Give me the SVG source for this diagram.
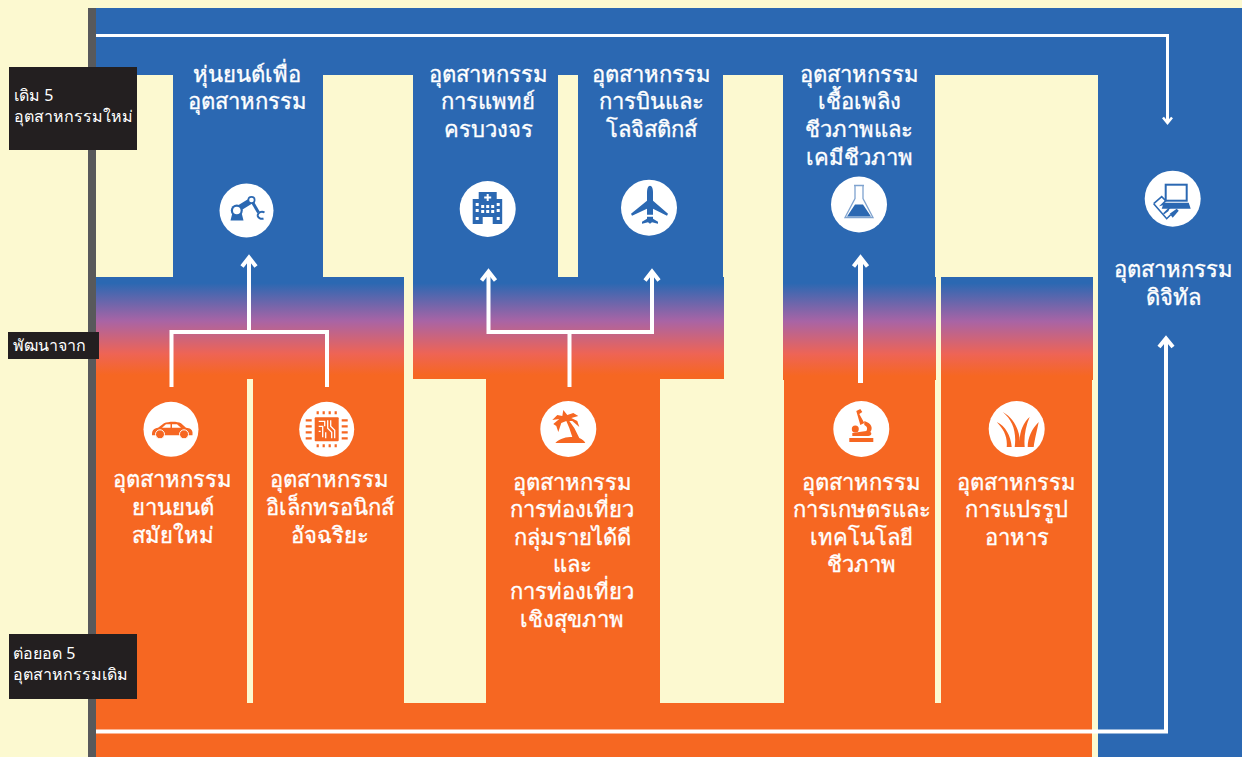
<svg xmlns="http://www.w3.org/2000/svg" width="1242" height="757" viewBox="0 0 1242 757">
<style>
.t{font-family:"Noto Sans","Noto Sans CJK SC",sans-serif;font-size:22px;font-weight:500;fill:#fff;stroke:#fff;stroke-width:0.350px;text-anchor:middle}
.l{font-family:"Noto Sans","Noto Sans CJK SC",sans-serif;font-size:16px;fill:#fff}
.b{fill:#2b68b2}.o{fill:#f66722}.k{fill:#231f20}.w{fill:#fff}.g{fill:url(#grad)}
.c{fill:none;stroke:#fff;stroke-width:4;stroke-linejoin:miter}
.a{fill:none;stroke:#fff;stroke-width:4;stroke-linecap:butt}
</style>
<defs>
<linearGradient id="grad" x1="0" y1="0" x2="0" y2="1">
<stop offset="0.06" stop-color="#2b68b2"/><stop offset="0.43" stop-color="#a864a5"/><stop offset="0.75" stop-color="#ee6455"/><stop offset="0.96" stop-color="#f66722"/>
</linearGradient>
</defs>
<rect width="1242" height="757" fill="#fcf9d0"/>
<rect x="88" y="8" width="8" height="749" fill="#58595b"/>
<g id="backdrop">
<rect class="b" x="96" y="8" width="1146" height="67"/>
<rect class="b" x="1098" y="8" width="144" height="749"/>
<rect class="b" x="173" y="75" width="150" height="202"/>
<rect class="b" x="413" y="75" width="145" height="202"/>
<rect class="b" x="578" y="75" width="145" height="202"/>
<rect class="b" x="783" y="75" width="152" height="202"/>
<rect class="g" x="96" y="277" width="308" height="102"/>
<rect class="g" x="413" y="277" width="311" height="102"/>
<rect class="g" x="783" y="277" width="153" height="103"/>
<rect class="g" x="941" y="277" width="152" height="103"/>
<rect class="o" x="96" y="379" width="151" height="324"/>
<rect class="o" x="253" y="379" width="151" height="324"/>
<rect class="o" x="486" y="379" width="174" height="324"/>
<rect class="o" x="784" y="380" width="151" height="323"/>
<rect class="o" x="941" y="380" width="151" height="323"/>
<rect class="o" x="96" y="703" width="996" height="54"/>
</g>
<g id="connectors">
<path class="c" d="M96 35.500H1167.500V122" style="stroke-width:3"/>
<path class="a" d="M1163 117.500L1167.500 123L1172 117.500" style="stroke-width:2.500"/>
<path class="c" d="M96 731.500H1166V340"/>
<path class="a" d="M1159 347L1166 338.500L1173 347"/>
<path class="c" d="M171.500 387V332H327V387"/>
<path class="c" d="M249 332V258"/>
<path class="a" d="M242 266.500L249 257.500L256 266.500"/>
<path class="c" d="M488.500 272V332H652V272"/>
<path class="c" d="M569.500 332V387"/>
<path class="a" d="M481.500 280.500L488.500 271.500L495.500 280.500"/>
<path class="a" d="M645 280.500L652 271.500L659 280.500"/>
<path class="c" d="M860.500 383V258" style="stroke-width:5"/>
<path class="a" d="M853.500 266.500L860.500 257.500L867.500 266.500"/>
</g>
<g id="node-robot">
<text class="t" x="247" y="82">หุ่นยนต์เพื่อ</text><text class="t" x="247" y="109">อุตสาหกรรม</text>
<g transform="translate(246.500 210.500)"><circle class="w" r="27"/>
<path class="b" d="M-16 10L-14 2H-5L-3 10Z"/>
<path d="M-8 -2L5 -10" stroke="#2b68b2" stroke-width="6" fill="none"/>
<path d="M5 -10L12 2" stroke="#2b68b2" stroke-width="3" fill="none"/>
<circle class="b" cx="-9.700" cy="0" r="6"/><circle class="w" cx="-9.700" cy="0" r="3.800"/>
<circle class="b" cx="5" cy="-10.500" r="4"/><circle class="w" cx="5" cy="-10.500" r="2.300"/>
<path d="M18 2A4.500 4.500 0 0 0 11 5M11 5A4.500 4.500 0 0 0 17 8" fill="none" stroke="#2b68b2" stroke-width="2"/></g>
</g>
<g id="node-medical">
<text class="t" x="488" y="82">อุตสาหกรรม</text><text class="t" x="488" y="109">การแพทย์</text><text class="t" x="488" y="137">ครบวงจร</text>
<g transform="translate(487.700 209)"><circle class="w" r="28"/>
<path class="b" d="M-15 -10H-9V-17H9V-10H14.500V15H5V8H-5V15H-15Z"/>
<path class="w" d="M-1 -15H1V-12.500H3.500V-10.500H1V-8H-1V-10.500H-3.500V-12.500H-1ZM-12 -6H-9V-3H-12ZM-6.500 -4H-3.500V-1H-6.500ZM-1.500 -4H1.500V-1H-1.500ZM3.500 -4H6.500V-1H3.500ZM9 -6H12V-3H9ZM-12 0H-9V3H-12ZM-6.500 1H-3.500V4H-6.500ZM-1.500 1H1.500V4H-1.500ZM3.500 1H6.500V4H3.500ZM9 0H12V3H9ZM-12 8H-9V11H-12ZM9 8H12V11H9Z"/></g>
</g>
<g id="node-aviation">
<text class="t" x="651" y="82">อุตสาหกรรม</text><text class="t" x="651" y="109">การบินและ</text><text class="t" x="651" y="137">โลจิสติกส์</text>
<g transform="translate(649 207.700)"><circle class="w" r="28"/>
<path class="b" d="M1 -22C3 -22 4 -19 4 -15V-7L19 6L18 8L4 1V7H-2V1L-17 8L-18 6L-2 -7V-15C-2 -19 -1 -22 1 -22Z"/>
<path class="b" d="M-2 9H4V11L9 14V16L3 14.500L1 16L-1 14.500L-7 16V14L-2 11Z"/></g>
</g>
<g id="node-biofuel">
<text class="t" x="859" y="82">อุตสาหกรรม</text><text class="t" x="859" y="109">เชื้อเพลิง</text><text class="t" x="859" y="137">ชีวภาพและ</text><text class="t" x="859" y="165">เคมีชีวภาพ</text>
<g transform="translate(859 204.500)"><circle class="w" r="28"/>
<path d="M-5 -19H5M-4 -19V-6L-14 13H14L4 -6V-19" fill="none" stroke="#7fa3cf" stroke-width="1.300"/>
<path class="b" d="M-4 0H4L12 12H-12Z"/></g>
</g>
<g id="node-digital">
<text class="t" x="1173" y="277">อุตสาหกรรม</text><text class="t" x="1173" y="305">ดิจิทัล</text>
<g transform="translate(1172.700 198.700)"><circle class="w" r="28"/>
<rect x="-7" y="-14" width="21" height="16" fill="none" stroke="#2b68b2" stroke-width="2"/>
<path class="b" d="M-9 4H16L18 10H-11Z"/>
<path d="M-19 5L-11 -2L-7 2L-11 6L-7 5L-3 8L-5 12L-9 15L-2 8M-19 5L-6 20L-2 16" fill="none" stroke="#2b68b2" stroke-width="1.600"/>
<path class="b" d="M-3 15L4 10L6 12L0 19Z"/></g>
</g>
<g id="node-car">
<text class="t" x="172.500" y="487">อุตสาหกรรม</text><text class="t" x="172.500" y="515">ยานยนต์</text><text class="t" x="172.500" y="543">สมัยใหม่</text>
<g transform="translate(171 429.300)"><circle class="w" r="27.500"/>
<path class="o" d="M-19 5C-19 1 -17 -1 -13 -1.500L-7 -6C-2 -8 6 -8 10 -6L15 -1.500C19 -1 21 0 21.500 3V6H-19Z"/>
<path class="w" d="M-9 -1.500L-5 -5H-0.500V-1.500ZM1 -5H6L10 -1.500H1Z"/>
<circle class="o" cx="-11" cy="5" r="4.500" stroke="#fff"/><circle class="o" cx="13" cy="5" r="4.500" stroke="#fff"/></g>
</g>
<g id="node-electronics">
<text class="t" x="329.500" y="487">อุตสาหกรรม</text><text class="t" x="329.500" y="515">อิเล็กทรอนิกส์</text><text class="t" x="329.500" y="543">อัจฉริยะ</text>
<g transform="translate(326.700 429.300)"><circle class="w" r="27.500"/>
<rect class="o" x="-12" y="-12" width="24" height="24" rx="1"/>
<path d="M-8 -8H-2V-3M-8 -3H-4V8M-8 2H-6M1 -9V-1L5 3V9M4 -9V-3L8 1V9M-1 3V9" fill="none" stroke="#fff" stroke-width="1.300"/>
<path d="M-9 -18V-15M-3 -18V-15M3 -18V-15M9 -18V-15M-9 15V18M-3 15V18M3 15V18M9 15V18M-21 -9H-15M-21 -3H-15M-21 3H-15M-21 9H-15M15 -9H21M15 -3H21M15 3H21M15 9H21" stroke="#f66722" stroke-width="2.200" fill="none"/></g>
</g>
<g id="node-tourism">
<text class="t" x="572" y="490">อุตสาหกรรม</text><text class="t" x="572" y="517">การท่องเที่ยว</text><text class="t" x="572" y="545">กลุ่มรายได้ดี</text><text class="t" x="572" y="572">และ</text><text class="t" x="572" y="599">การท่องเที่ยว</text><text class="t" x="572" y="627">เชิงสุขภาพ</text>
<g transform="translate(568.300 429)"><circle class="w" r="28"/>
<path class="o" d="M-13 14C-8 9 -2 8 4 8L1 -1L-2 -8L-7 -6L-10 3L-12 -3L-15 -5L-9 -10L-16 -9L-11 -14L-6 -13L-5 -19L-1 -14L5 -16L10 -13L3 -11L9 -8L11 -2L4 -8L1 -8L6 -1L11 9C14 10 16 12 17 14Z"/></g>
</g>
<g id="node-agri">
<text class="t" x="861.700" y="490">อุตสาหกรรม</text><text class="t" x="861.700" y="517">การเกษตรและ</text><text class="t" x="861.700" y="545">เทคโนโลยี</text><text class="t" x="861.700" y="572">ชีวภาพ</text>
<g transform="translate(861.300 429)"><circle class="w" r="28"/>
<path class="o" d="M-12 9H12V13H-12ZM-5 -18L-1 -20L1 -17L-2 -15L3 -6L-1 -4ZM3 -8C10 -6 12 -1 9 3C11 4 10 7 7 7H-9V4L5 2C7 -1 5 -3 3 -4Z"/>
<circle class="o" cx="-6" cy="0" r="3.500"/></g>
</g>
<g id="node-food">
<text class="t" x="1016.700" y="490">อุตสาหกรรม</text><text class="t" x="1016.700" y="517">การแปรรูป</text><text class="t" x="1016.700" y="545">อาหาร</text>
<g transform="translate(1016.700 429)"><circle class="w" r="28"/>
<path class="o" d="M-10 18C-9 8 -13 0 -20 -7C-11 -3 -6 7 -5 18ZM-2 18C0 3 -4 -9 -14 -17C-3 -11 3 1 3 12C3 2 7 -7 13 -12C9 -3 7 8 8 18ZM11 18C11 9 15 0 22 -7C20 3 18 10 17 18Z"/></g>
</g>
<g id="label-new5"><rect class="k" x="9" y="67" width="128" height="83"/><text class="l" x="14" y="101">เดิม 5</text><text class="l" x="14" y="122">อุตสาหกรรมใหม่</text></g>
<g id="label-from"><rect class="k" x="8" y="332" width="91" height="27"/><text class="l" x="13" y="351">พัฒนาจาก</text></g>
<g id="label-old5"><rect class="k" x="9" y="634" width="128" height="65"/><text class="l" x="13" y="659">ต่อยอด 5</text><text class="l" x="13" y="680">อุตสาหกรรมเดิม</text></g>
</svg>
